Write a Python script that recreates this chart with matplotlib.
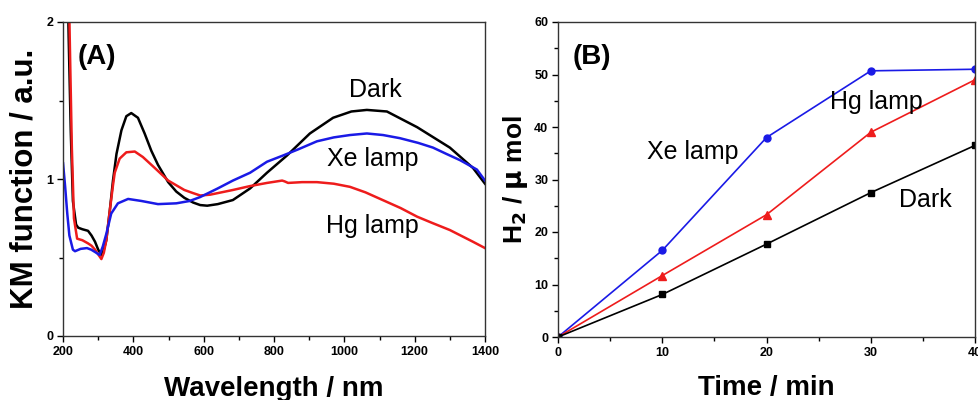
import matplotlib.pyplot as plt
from matplotlib.ticker import MultipleLocator

plt.rcParams['font.family'] = ['Liberation Sans', 'DejaVu Sans']

# (A) Kubelka-Munk spectra
wl_dark = [212, 216, 222, 228, 237, 243, 255, 271, 281, 291, 300, 309, 316, 323, 333, 342, 352,
           366, 380, 394, 413, 432, 451, 470, 499, 522, 545, 570, 590, 610, 640, 683, 732, 780,
           837, 902, 968, 1020, 1064, 1121, 1207, 1300, 1366, 1400]
km_dark = [2.4, 1.9, 1.3, 0.86, 0.71, 0.69, 0.68, 0.67, 0.64, 0.60, 0.55, 0.516, 0.55, 0.61,
           0.80, 0.99, 1.16, 1.31, 1.40, 1.42, 1.39, 1.29, 1.18, 1.09, 0.98, 0.92, 0.88, 0.85,
           0.834, 0.83, 0.84, 0.866, 0.94, 1.04, 1.15, 1.29, 1.39, 1.43, 1.44, 1.43, 1.33, 1.20,
           1.07, 0.97]

wl_hg = [215, 219, 225, 231, 240, 255, 271, 281, 291, 300, 309, 316, 323, 333, 342, 347, 361,
         380, 404, 427, 461, 499, 522, 545, 570, 590, 618, 683, 732, 780, 823, 830, 840, 880,
         922, 970, 1016, 1060, 1110, 1160, 1207, 1250, 1300, 1366, 1400]
km_hg = [2.4, 1.9, 1.2, 0.75, 0.62, 0.61, 0.59, 0.575, 0.55, 0.52, 0.49, 0.53, 0.61, 0.80,
         0.96, 1.04, 1.13, 1.17, 1.175, 1.14, 1.07, 0.99, 0.96, 0.93, 0.91, 0.895, 0.90, 0.93,
         0.955, 0.975, 0.99, 0.985, 0.975, 0.98, 0.98, 0.97, 0.95, 0.915, 0.865, 0.815, 0.76,
         0.72, 0.675, 0.60, 0.56]

wl_xe = [200, 206, 212, 218, 228, 234, 250, 268, 280, 291, 304, 313, 323, 337, 356, 385, 423,
         470, 522, 560, 590, 640, 683, 732, 780, 826, 870, 922, 970, 1016, 1064, 1110, 1158,
         1210, 1252, 1290, 1329, 1377, 1400]
km_xe = [1.10, 0.95, 0.78, 0.64, 0.55, 0.54, 0.555, 0.56, 0.55, 0.535, 0.516, 0.57, 0.65, 0.78,
         0.845, 0.873, 0.86, 0.84, 0.845, 0.86, 0.885, 0.94, 0.99, 1.04, 1.11, 1.15, 1.19, 1.24,
         1.265, 1.28, 1.29, 1.28, 1.26, 1.23, 1.20, 1.16, 1.12, 1.06, 0.99]

# (B) hydrogen evolution
time_min = [0, 10, 20, 30, 40]
h2_dark = [0, 8.1, 17.7, 27.5, 36.5]
h2_hg = [0, 11.7, 23.3, 39.0, 49.0]
h2_xe = [0, 16.5, 38.0, 50.7, 51.0]

RED = '#ee1c1c'
BLUE = '#1a1ae6'

fig = plt.figure(figsize=(9.79, 4.0), dpi=100)
axA = fig.add_axes([0.0644, 0.16, 0.431, 0.785])
axB = fig.add_axes([0.570, 0.1575, 0.426, 0.7875])


def style_axes(ax):
    for s in ax.spines.values():
        s.set_linewidth(1.0)
        s.set_color('#333333')
    ax.tick_params(which='both', direction='out', width=1.0, labelsize=9, pad=3)
    ax.tick_params(which='major', length=4)
    ax.tick_params(which='minor', length=3)
    for lbl in ax.get_xticklabels() + ax.get_yticklabels():
        lbl.set_fontweight('bold')


# panel A
axA.plot(wl_dark, km_dark, color='black', lw=1.8)
axA.plot(wl_hg, km_hg, color=RED, lw=1.8)
axA.plot(wl_xe, km_xe, color=BLUE, lw=1.8)
axA.set_xlim(200, 1400)
axA.set_ylim(0, 2)
axA.xaxis.set_major_locator(MultipleLocator(200))
axA.xaxis.set_minor_locator(MultipleLocator(100))
axA.yaxis.set_major_locator(MultipleLocator(1))
axA.yaxis.set_minor_locator(MultipleLocator(0.5))
style_axes(axA)
axA.set_xlabel('Wavelength / nm', fontsize=20, fontweight='bold', labelpad=13.5)
axA.set_ylabel('KM function / a.u.', fontsize=22.5, fontweight='bold', labelpad=5)
axA.text(0.035, 0.93, '(A)', transform=axA.transAxes, fontsize=20, fontweight='bold',
         va='top', ha='left')
axA.text(1087, 1.57, 'Dark', fontsize=18, ha='center', va='center')
axA.text(1081, 1.13, 'Xe lamp', fontsize=18, ha='center', va='center')
axA.text(1081, 0.70, 'Hg lamp', fontsize=18, ha='center', va='center')

# panel B
axB.plot(time_min, h2_xe, color=BLUE, lw=1.2, marker='o', ms=5)
axB.plot(time_min, h2_hg, color=RED, lw=1.2, marker='^', ms=5.5)
axB.plot(time_min, h2_dark, color='black', lw=1.2, marker='s', ms=4.5)
axB.set_xlim(0, 40)
axB.set_ylim(0, 60)
axB.xaxis.set_major_locator(MultipleLocator(10))
axB.xaxis.set_minor_locator(MultipleLocator(5))
axB.yaxis.set_major_locator(MultipleLocator(10))
axB.yaxis.set_minor_locator(MultipleLocator(5))
style_axes(axB)
axB.set_xlabel('Time / min', fontsize=20, fontweight='bold', labelpad=12)
axB.set_ylabel(r'H$_\mathbf{2}$ / $\mathbf{\mu}$ mol', fontsize=19, fontweight='bold',
               labelpad=3)
axB.text(0.035, 0.93, '(B)', transform=axB.transAxes, fontsize=20, fontweight='bold',
         va='top', ha='left')
axB.text(12.9, 35.2, 'Xe lamp', fontsize=18, ha='center', va='center')
axB.text(30.5, 44.8, 'Hg lamp', fontsize=18, ha='center', va='center')
axB.text(35.2, 26.1, 'Dark', fontsize=18, ha='center', va='center')

fig.savefig('out.png', dpi=100)
